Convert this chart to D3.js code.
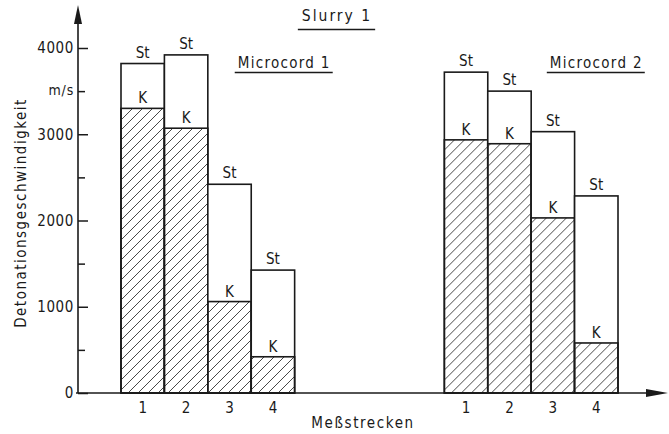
<!DOCTYPE html>
<html><head><meta charset="utf-8">
<script src="https://cdn.jsdelivr.net/npm/d3@7"></script>
<style>
html,body{margin:0;padding:0;background:#fff;}
text{font-family:"DejaVu Sans Condensed","DejaVu Sans",sans-serif;fill:#1a1a1a;}
</style></head>
<body><svg id="c" width="669" height="434"></svg>
<script>
// ---- data ----
const groups = ["Microcord 1", "Microcord 2"];
const stretches = ["1", "2", "3", "4"];
const stValues = [[3820, 3920, 2420, 1425], [3720, 3500, 3030, 2285]]; // "St"
const kValues  = [[3300, 3070, 1060, 420], [2935, 2890, 2030, 580]];   // "K"
const yTickValues = [0, 1000, 2000, 3000, 4000];
const yTickLabels = ["0", "1000", "2000", "3000", "4000"];
const yMinorTicks = [500, 1500, 2500, 3500];
const unitLabel = "m/s";
const title = "Slurry 1";
const xTitle = "Meßstrecken";
const yTitle = "Detonationsgeschwindigkeit";

const ink = "#1a1a1a";
const svg = d3.select("#c");
const defs = svg.append("defs");
const pat = defs.append("pattern").attr("id","hatch").attr("patternUnits","userSpaceOnUse")
  .attr("width",10).attr("height",10);
pat.append("path").attr("d","M-1,1 l2,-2 M0,10 l10,-10 M9,11 l2,-2")
  .attr("stroke","#333").attr("stroke-width",0.9);

const y = d3.scaleLinear().domain([0,4000]).range([393,48]);
const gx = d3.scaleBand().domain(groups).range([121,618]).paddingInner(0.463);
const bx = d3.scaleBand().domain(stretches).range([0, gx.bandwidth()]);

const axisX = 78;

// bars
groups.forEach((g, gi) => {
  const G = svg.append("g").attr("transform", `translate(${gx(g)},0)`);
  stretches.forEach((s, i) => {
    const x0 = bx(s), w = bx.bandwidth();
    const st = stValues[gi][i], k = kValues[gi][i];
    G.append("rect").attr("x",x0).attr("y",y(st)).attr("width",w).attr("height",y(0)-y(st))
      .attr("fill","#fff").attr("stroke",ink).attr("stroke-width",1.6);
    G.append("rect").attr("x",x0).attr("y",y(k)).attr("width",w).attr("height",y(0)-y(k))
      .attr("fill","url(#hatch)").attr("stroke",ink).attr("stroke-width",1.6);
    G.append("text").attr("x",x0+w/2).attr("y",y(st)-6).attr("text-anchor","middle")
      .attr("font-size",15).text("St");
    G.append("text").attr("x",x0+w/2).attr("y",y(k)-5).attr("text-anchor","middle")
      .attr("font-size",15).text("K");
    G.append("text").attr("x",x0+w/2).attr("y",413).attr("text-anchor","middle")
      .attr("font-size",15).text(s);
  });
  // group label
  const cx = gx(g) + gx.bandwidth()*(gi===0 ? 0.94 : 0.875);
  const t = svg.append("text").attr("x",cx).attr("y",68).attr("text-anchor","middle")
    .attr("font-size",15).attr("letter-spacing","1.3px").text(g);
  const bb = t.node().getBBox();
  svg.append("line").attr("x1",bb.x-3).attr("x2",bb.x+bb.width+2).attr("y1",72.5).attr("y2",72.5)
    .attr("stroke",ink).attr("stroke-width",1.6);
});

// axes
const yAxis = d3.axisRight(y).tickValues(yTickValues).tickSize(10).tickFormat("");
const ga = svg.append("g").attr("transform",`translate(${axisX},0)`).call(yAxis);
ga.select(".domain").remove();
ga.selectAll(".tick line").attr("stroke",ink).attr("stroke-width",1.5);
const yAxisMinor = d3.axisRight(y).tickValues(yMinorTicks).tickSize(7).tickFormat("");
const gm = svg.append("g").attr("transform",`translate(${axisX},0)`).call(yAxisMinor);
gm.select(".domain").remove();
gm.selectAll(".tick line").attr("stroke",ink).attr("stroke-width",1.5);

yTickValues.forEach((v,i) => {
  svg.append("text").attr("x",axisX-4).attr("y",y(v)).attr("dy","0.36em")
    .attr("text-anchor","end").attr("font-size",15).attr("letter-spacing","0.6px").text(yTickLabels[i]);
});
svg.append("text").attr("x",axisX-4).attr("y",y(3500)).attr("dy","0.3em")
  .attr("text-anchor","end").attr("font-size",14).attr("letter-spacing","0.8px").text(unitLabel);

// axis lines with arrows
svg.append("line").attr("x1",axisX).attr("x2",axisX).attr("y1",y(0)).attr("y2",20)
  .attr("stroke",ink).attr("stroke-width",1.6);
svg.append("path").attr("d",`M${axisX},5 L${axisX-4},24 L${axisX+4},24 Z`).attr("fill",ink);
svg.append("line").attr("x1",axisX-2).attr("x2",650).attr("y1",y(0)).attr("y2",y(0))
  .attr("stroke",ink).attr("stroke-width",1.6);
svg.append("path").attr("d",`M668,${y(0)} L646,${y(0)-4} L646,${y(0)+4} Z`).attr("fill",ink);

// titles
const tt = svg.append("text").attr("x",337).attr("y",21).attr("text-anchor","middle")
  .attr("font-size",15.5).attr("letter-spacing","2px").text(title);
const tb = tt.node().getBBox();
svg.append("line").attr("x1",tb.x-4).attr("x2",tb.x+tb.width+3).attr("y1",29.5).attr("y2",29.5)
  .attr("stroke",ink).attr("stroke-width",1.6);

svg.append("text").attr("x",363).attr("y",428).attr("text-anchor","middle")
  .attr("font-size",15).attr("letter-spacing","1.6px").text(xTitle);
svg.append("text").attr("transform","translate(26,213) rotate(-90)").attr("text-anchor","middle")
  .attr("font-size",15).attr("letter-spacing","1.5px").text(yTitle);
</script></body></html>
